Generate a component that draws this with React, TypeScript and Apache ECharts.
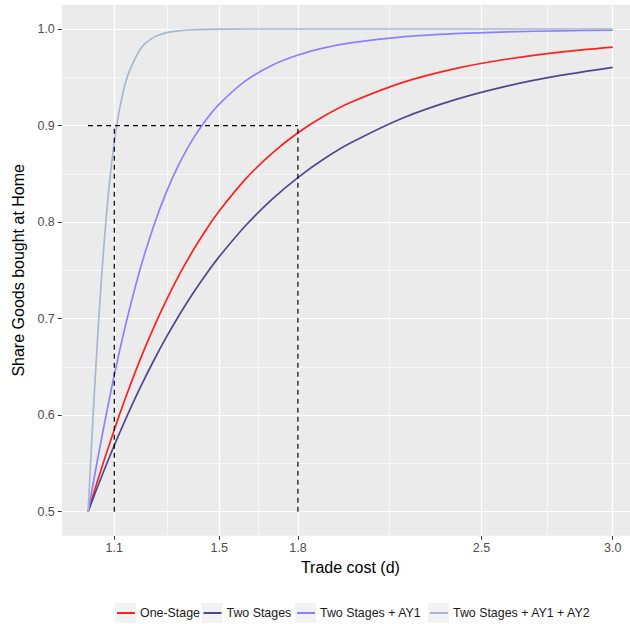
import React, { useEffect, useRef } from "react";
import * as echarts from "echarts";

const FONT = "'Liberation Sans', Arial, sans-serif";

// Trade cost grid (x)
const tradeCost = [1.0, 1.02, 1.04, 1.06, 1.08, 1.1, 1.12, 1.15, 1.2, 1.25, 1.3, 1.35, 1.4, 1.45, 1.5, 1.6, 1.7, 1.8, 1.9, 2.0, 2.2, 2.4, 2.6, 2.8, 3.0];

// Share of goods bought at home
const oneStage = [0.5, 0.5178, 0.5353, 0.5522, 0.5688, 0.5849, 0.6006, 0.6232, 0.6585, 0.6907, 0.72, 0.7465, 0.7705, 0.7921, 0.8115, 0.8445, 0.871, 0.8925, 0.9098, 0.9238, 0.9447, 0.959, 0.9689, 0.976, 0.9812];
const twoStages = [0.5, 0.5143, 0.5284, 0.5421, 0.5556, 0.5687, 0.5814, 0.6, 0.6292, 0.6563, 0.6815, 0.7048, 0.7263, 0.746, 0.7642, 0.7962, 0.8233, 0.8461, 0.8655, 0.8818, 0.9078, 0.9268, 0.9411, 0.9519, 0.9603];
const twoStagesAY1 = [0.5, 0.5302, 0.5595, 0.5879, 0.6153, 0.6414, 0.6663, 0.7011, 0.7526, 0.796, 0.8321, 0.8618, 0.8862, 0.906, 0.9222, 0.9462, 0.9622, 0.973, 0.9805, 0.9856, 0.9919, 0.9952, 0.9971, 0.9981, 0.9988];
const twoStagesAY12 = [0.5, 0.6034, 0.6967, 0.7747, 0.8364, 0.8829, 0.917, 0.9509, 0.9795, 0.9913, 0.9962, 0.9983, 0.9992, 0.9996, 0.9998, 1.0, 1.0, 1.0, 1.0, 1.0, 1.0, 1.0, 1.0, 1.0, 1.0];

const seriesNames = ["One-Stage", "Two Stages", "Two Stages + AY1", "Two Stages + AY1 + AY2"];
const seriesColors = ["#FF2020", "#4F4890", "#8C80FF", "#A6B8D0"];
const seriesValues = [oneStage, twoStages, twoStagesAY1, twoStagesAY12];

// Axis breaks and labels
const xBreaks = [1.1, 1.5, 1.8, 2.5, 3.0];
const xTickLabels = ["1.1", "1.5", "1.8", "2.5", "3.0"];
const xMinor = [1.3, 1.65, 2.15, 2.75];
const yBreaks = [0.5, 0.6, 0.7, 0.8, 0.9, 1.0];
const yTickLabels = ["0.5", "0.6", "0.7", "0.8", "0.9", "1.0"];
const yMinor = [0.55, 0.65, 0.75, 0.85, 0.95];

// Dashed guides
const guideLevel = 0.9;
const guideFrom = 1.0;
const guideBase = 0.5;
const guideCosts = [1.1, 1.8];

// Legend key positions (layout)
const legendBoxes = [115, 201.5, 295, 428];

export default function App() {
  const ref = useRef<HTMLDivElement>(null);
  useEffect(() => {
    if (!ref.current) return;
    const chart = echarts.init(ref.current, null, { renderer: "svg" });

    const dataSeries = seriesNames.map((name, i) => ({
      type: "line",
      name,
      data: tradeCost.map((x, j) => [x, seriesValues[i][j]]),
      showSymbol: false,
      symbol: "none",
      smooth: 0.25,
      color: seriesColors[i],
      lineStyle: { color: seriesColors[i], width: 1.7 },
      z: 10,
    }));

    const guideSeries = [
      {
        type: "line",
        name: "guide-h",
        data: [[guideFrom, guideLevel], [guideCosts[guideCosts.length - 1], guideLevel]],
        symbol: "none",
        lineStyle: { color: "#000", width: 1.2, type: [5, 4] },
        z: 11,
        silent: true,
      },
      ...guideCosts.map((c, i) => ({
        type: "line",
        name: "guide-v" + i,
        data: [[c, guideBase], [c, guideLevel]],
        symbol: "none",
        lineStyle: { color: "#000", width: 1.2, type: [5, 4] },
        z: 11,
        silent: true,
      })),
    ];

    const gridSeries = [
      {
        type: "line",
        name: "grid-minor",
        data: [],
        z: 1,
        silent: true,
        markLine: {
          z: 1,
          silent: true,
          symbol: ["none", "none"],
          label: { show: false },
          lineStyle: { color: "#FFFFFF", width: 0.6, type: "solid" },
          emphasis: { disabled: true },
          data: [...xMinor.map((v) => ({ xAxis: v })), ...yMinor.map((v) => ({ yAxis: v }))],
        },
      },
      {
        type: "line",
        name: "grid-major",
        data: [],
        z: 1,
        silent: true,
        markLine: {
          z: 1,
          silent: true,
          symbol: ["none", "none"],
          label: { show: false },
          lineStyle: { color: "#FFFFFF", width: 1.2, type: "solid" },
          emphasis: { disabled: true },
          data: [...xBreaks.map((v) => ({ xAxis: v })), ...yBreaks.map((v) => ({ yAxis: v }))],
        },
      },
    ];

    const legends = seriesNames.map((name, i) => ({
      data: [name],
      left: legendBoxes[i] + 2,
      top: 606,
      padding: 0,
      icon: "rect",
      itemWidth: 18,
      itemHeight: 2,
      selectedMode: false,
      textStyle: { fontSize: 12.4, color: "#1a1a1a", fontFamily: FONT, lineHeight: 14 },
    }));

    chart.setOption({
      animation: false,
      grid: {
        left: 61.84,
        top: 4.87,
        width: 577.1,
        height: 530.9,
        show: true,
        backgroundColor: "#EBEBEB",
        borderWidth: 0,
        containLabel: false,
      },
      xAxis: {
        type: "value",
        min: 0.9,
        max: 3.1,
        name: "Trade cost (d)",
        nameLocation: "middle",
        nameGap: 22,
        nameTextStyle: { fontSize: 16, color: "#000", fontFamily: FONT },
        axisLine: { show: false },
        splitLine: { show: false },
        axisTick: { show: true, length: 4, lineStyle: { color: "#333", width: 1 }, customValues: xBreaks },
        axisLabel: {
          customValues: xBreaks,
          margin: 6,
          fontSize: 12.5,
          color: "#4D4D4D",
          fontFamily: FONT,
          formatter: (v: number) => xTickLabels[xBreaks.findIndex((b) => Math.abs(b - v) < 1e-6)] ?? "",
        },
      },
      yAxis: {
        type: "value",
        min: 0.475,
        max: 1.025,
        name: "Share Goods bought at Home",
        nameLocation: "middle",
        nameGap: 33,
        nameTextStyle: { fontSize: 16, color: "#000", fontFamily: FONT },
        axisLine: { show: false },
        splitLine: { show: false },
        axisTick: { show: true, length: 4, lineStyle: { color: "#333", width: 1 }, customValues: yBreaks },
        axisLabel: {
          customValues: yBreaks,
          margin: 7,
          fontSize: 12.5,
          color: "#4D4D4D",
          fontFamily: FONT,
          formatter: (v: number) => yTickLabels[yBreaks.findIndex((b) => Math.abs(b - v) < 1e-6)] ?? "",
        },
      },
      legend: legends,
      graphic: legendBoxes.map((x) => ({
        type: "rect",
        z: 0,
        silent: true,
        shape: { x, y: 603, width: 21, height: 20 },
        style: { fill: "#F2F2F2" },
      })),
      series: [...gridSeries, ...dataSeries, ...guideSeries],
    });

    return () => chart.dispose();
  }, []);

  return (
    <div style={{ position: "absolute", left: 0, top: 0, width: 630, height: 624, overflow: "hidden", background: "#fff" }}>
      <div ref={ref} style={{ width: 640, height: 624 }} />
    </div>
  );
}
